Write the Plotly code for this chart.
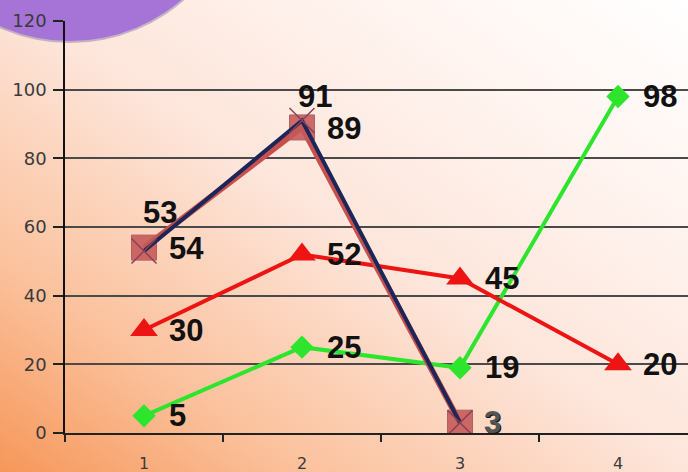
import base64
import plotly.graph_objects as go

# ---- data -------------------------------------------------------------
categories = ["1", "2", "3", "4"]
square_vals = [54, 89, 3]          # square markers, first three categories
navy_vals = [53, 91, 3]            # navy line with x markers
red_vals = [30, 52, 45, 20]        # red line, triangles
green_vals = [5, 25, 19, 98]       # green line, diamonds
y_ticks = [0, 20, 40, 60, 80, 100, 120]

# ---- figure geometry --------------------------------------------------
W, H = 688, 472
ML, MR, MT, MB = 65, 0, 21, 39
PW, PH = W - ML - MR, H - MT - MB

# background: diagonal warm gradient plus a purple disc in the top-left corner
bg_svg = f"""<svg xmlns='http://www.w3.org/2000/svg' width='{W}' height='{H}' viewBox='0 0 {W} {H}' preserveAspectRatio='none'>
<defs>
<linearGradient id='g' x1='0' y1='1' x2='1' y2='0'>
<stop offset='0' stop-color='#f6975a'/>
<stop offset='0.22' stop-color='#fbc19c'/>
<stop offset='0.5' stop-color='#fde5da'/>
<stop offset='0.78' stop-color='#fff5f1'/>
<stop offset='1' stop-color='#ffffff'/>
</linearGradient>
</defs>
<rect x='0' y='0' width='{W}' height='{H}' fill='url(#g)'/>
<circle cx='70' cy='-131' r='174' fill='#9f8fb0' opacity='0.6'/>
<circle cx='70' cy='-131' r='172' fill='#a674d6'/>
</svg>"""
bg_uri = "data:image/svg+xml;base64," + base64.b64encode(bg_svg.encode()).decode()

fig = go.Figure()

# green series
fig.add_trace(go.Scatter(
    x=categories[:len(green_vals)], y=green_vals, mode="lines+markers",
    line=dict(color="#2ee52e", width=4),
    marker=dict(symbol="diamond", size=18, color="#2ee52e"),
))
# red series
fig.add_trace(go.Scatter(
    x=categories[:len(red_vals)], y=red_vals, mode="lines+markers",
    line=dict(color="#ee1414", width=4),
    marker=dict(symbol="triangle-up", size=24, color="#ee1414"),
))
# square series
fig.add_trace(go.Scatter(
    x=categories[:len(square_vals)], y=square_vals, mode="lines+markers",
    line=dict(color="#c8504c", width=6),
    marker=dict(symbol="square", size=25, color="rgba(196,88,86,0.88)",
                line=dict(color="#b06060", width=1)),
))
# navy series
fig.add_trace(go.Scatter(
    x=categories[:len(navy_vals)], y=navy_vals, mode="lines+markers",
    line=dict(color="#1d2658", width=4),
    marker=dict(symbol="x-thin", size=25,
                line=dict(color="#8a4058", width=1.5)),
))

# value labels (x given as category index)
label_font = dict(family="Liberation Sans, Arial, sans-serif", size=31, color="#111111")
annotations = []

def add_labels(vals, xshift, yshift, xanchor="left", color="#111111"):
    for i, v in enumerate(vals):
        annotations.append(dict(
            x=i, y=v, xref="x", yref="y", text=f"<b>{v}</b>", showarrow=False,
            xanchor=xanchor, yanchor="middle", xshift=xshift, yshift=yshift,
            font=dict(label_font, color=color),
        ))

add_labels(green_vals, 23, 0)
add_labels(red_vals, 23, 0)
add_labels(square_vals, 23, -1)
# navy labels sit above their points, except the last one
annotations.append(dict(x=0, y=navy_vals[0], text=f"<b>{navy_vals[0]}</b>",
                        showarrow=False, xanchor="center", yanchor="middle",
                        xshift=16, yshift=39, font=label_font))
annotations.append(dict(x=1, y=navy_vals[1], text=f"<b>{navy_vals[1]}</b>",
                        showarrow=False, xanchor="center", yanchor="middle",
                        xshift=13, yshift=24, font=label_font))
annotations.append(dict(x=2, y=navy_vals[2], text=f"<b>{navy_vals[2]}</b>",
                        showarrow=False, xanchor="left", yanchor="middle",
                        xshift=22, yshift=0, font=dict(label_font, color="#555555")))

tick_font = dict(family="DejaVu Sans, sans-serif", size=18, color="#3a3a3a")

fig.update_layout(
    width=W, height=H,
    margin=dict(l=ML, r=MR, t=MT, b=MB, pad=0),
    paper_bgcolor="rgba(0,0,0,0)",
    plot_bgcolor="rgba(0,0,0,0)",
    showlegend=False,
    annotations=annotations,
    images=[dict(
        source=bg_uri, xref="paper", yref="paper",
        x=-ML / PW, y=1 + MT / PH, sizex=W / PW, sizey=H / PH,
        xanchor="left", yanchor="top", sizing="stretch", layer="below",
    )],
    xaxis=dict(
        type="category", categoryorder="array", categoryarray=categories,
        range=[-0.5, (W - ML) / 158 - 0.5],
        showgrid=False, zeroline=False,
        showline=True, linecolor="#222222", linewidth=1.5,
        ticks="outside", tickson="boundaries", ticklen=7, tickwidth=1.5,
        tickcolor="#222222", tickfont=dict(tick_font, size=16),
        ticklabelstandoff=15,
    ),
    yaxis=dict(
        range=[0, 120], tickvals=y_ticks, autorange=False,
        showgrid=True, gridcolor="#4a4a4a", gridwidth=1.5,
        zeroline=False,
        showline=True, linecolor="#111111", linewidth=1.5,
        ticks="outside", ticklen=10, tickwidth=1.5, tickcolor="#222222",
        tickfont=tick_font, ticklabelstandoff=3,
    ),
)

fig.write_html("out.html")
